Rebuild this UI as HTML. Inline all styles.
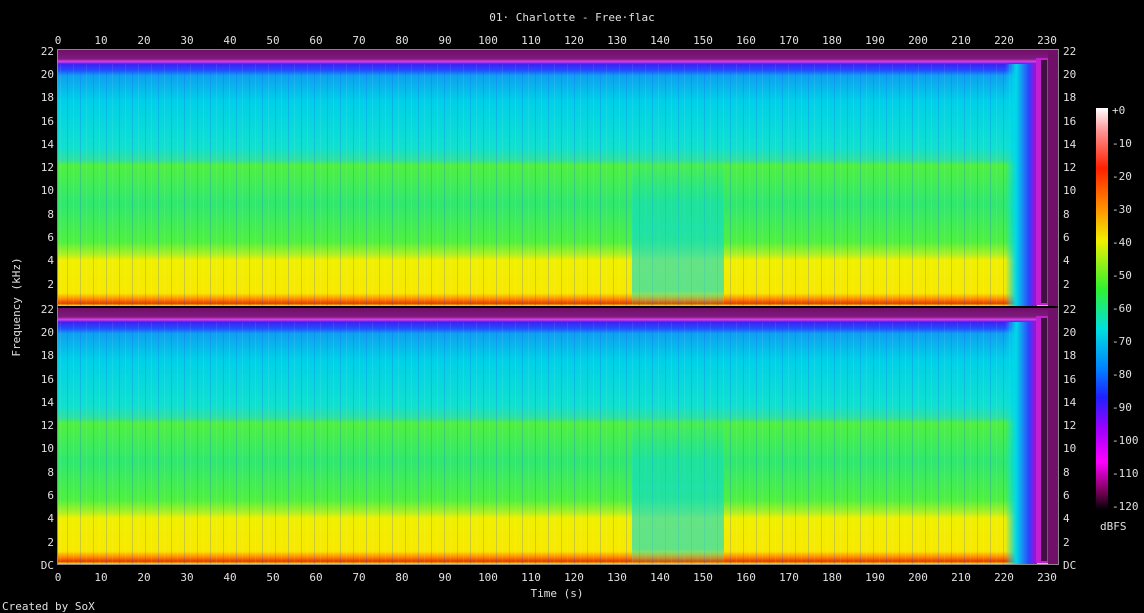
<!DOCTYPE html>
<html><head><style>body{margin:0;background:#000}svg{display:block}text{font-family:"DejaVu Sans Mono","Liberation Mono",monospace;font-size:11px;fill:#e0e0e0}</style></head>
<body>
<svg width="1144" height="613" xmlns="http://www.w3.org/2000/svg">
<defs>
<linearGradient id="sp" x1="0" y1="0" x2="0" y2="1">
<stop offset="0" stop-color="#701068"/><stop offset="0.035" stop-color="#801a80"/>
<stop offset="0.045" stop-color="#e040e8"/><stop offset="0.055" stop-color="#4020f0"/>
<stop offset="0.08" stop-color="#2050ff"/><stop offset="0.1" stop-color="#10a0f0"/>
<stop offset="0.2" stop-color="#00d0e8"/><stop offset="0.38" stop-color="#10e0d0"/>
<stop offset="0.43" stop-color="#30e0a0"/><stop offset="0.45" stop-color="#50f040"/>
<stop offset="0.6" stop-color="#30e870"/><stop offset="0.75" stop-color="#50f040"/>
<stop offset="0.8" stop-color="#b0f020"/><stop offset="0.82" stop-color="#f0f000"/>
<stop offset="0.95" stop-color="#f8e800"/><stop offset="0.975" stop-color="#ff8000"/>
<stop offset="0.99" stop-color="#e04000"/><stop offset="1" stop-color="#f0f000"/>
</linearGradient>
<linearGradient id="mid" x1="0" y1="0" x2="0" y2="1">
<stop offset="0" stop-color="#00d8e8" stop-opacity="0"/><stop offset="0.5" stop-color="#00d8e8" stop-opacity="0.55"/>
<stop offset="0.9" stop-color="#20e0c0" stop-opacity="0.7"/><stop offset="1" stop-color="#20e0c0" stop-opacity="0"/>
</linearGradient>
<linearGradient id="end" x1="0" y1="0" x2="1" y2="0">
<stop offset="0" stop-color="#00d8e8" stop-opacity="0"/><stop offset="0.35" stop-color="#00d8e8"/>
<stop offset="0.75" stop-color="#3040ff"/><stop offset="1" stop-color="#c000d0"/>
</linearGradient>
<pattern id="str" width="13" height="10" patternUnits="userSpaceOnUse">
<rect x="2" width="1" height="10" fill="#2040ff" opacity="0.2"/><rect x="8" width="1" height="10" fill="#ffffff" opacity="0.08"/>
</pattern>
<linearGradient id="cb" x1="0" y1="0" x2="0" y2="1">
<stop offset="0" stop-color="#ffffff"/><stop offset="0.06" stop-color="#ff9090"/>
<stop offset="0.15" stop-color="#ff2000"/><stop offset="0.25" stop-color="#ff9000"/>
<stop offset="0.33" stop-color="#f0f000"/><stop offset="0.45" stop-color="#30f030"/>
<stop offset="0.55" stop-color="#00e0e0"/><stop offset="0.65" stop-color="#0080ff"/>
<stop offset="0.72" stop-color="#2020ff"/><stop offset="0.8" stop-color="#a000ff"/>
<stop offset="0.88" stop-color="#ff00ff"/><stop offset="0.95" stop-color="#800060"/>
<stop offset="1" stop-color="#000000"/>
</linearGradient>
<g id="ch">
<rect x="58" y="0" width="1000" height="256" fill="url(#sp)"/>
<rect x="58" y="14" width="960" height="242" fill="url(#str)"/>
<rect x="632" y="100" width="92" height="156" fill="url(#mid)"/>
<rect x="1005" y="14" width="32" height="242" fill="url(#end)"/>
<rect x="1036" y="8" width="12" height="247" fill="#c020d0"/>
<rect x="1041" y="10" width="6" height="243" fill="#401040"/>
<rect x="1048" y="0" width="10" height="256" fill="#701068"/>
</g>
</defs>
<text x="572" y="21" text-anchor="middle">01· Charlotte - Free·flac</text>
<use href="#ch" y="50"/>
<use href="#ch" y="308"/>
<rect x="57.5" y="49.5" width="1001" height="515" fill="none" stroke="#888"/>
<g id="tx">
<text x="58" y="44" text-anchor="middle">0</text><text x="101" y="44" text-anchor="middle">10</text><text x="144" y="44" text-anchor="middle">20</text><text x="187" y="44" text-anchor="middle">30</text><text x="230" y="44" text-anchor="middle">40</text><text x="273" y="44" text-anchor="middle">50</text><text x="316" y="44" text-anchor="middle">60</text><text x="359" y="44" text-anchor="middle">70</text><text x="402" y="44" text-anchor="middle">80</text><text x="445" y="44" text-anchor="middle">90</text><text x="488" y="44" text-anchor="middle">100</text><text x="531" y="44" text-anchor="middle">110</text><text x="574" y="44" text-anchor="middle">120</text><text x="617" y="44" text-anchor="middle">130</text><text x="660" y="44" text-anchor="middle">140</text><text x="703" y="44" text-anchor="middle">150</text><text x="746" y="44" text-anchor="middle">160</text><text x="789" y="44" text-anchor="middle">170</text><text x="832" y="44" text-anchor="middle">180</text><text x="875" y="44" text-anchor="middle">190</text><text x="918" y="44" text-anchor="middle">200</text><text x="961" y="44" text-anchor="middle">210</text><text x="1004" y="44" text-anchor="middle">220</text><text x="1047" y="44" text-anchor="middle">230</text>
</g>
<use href="#tx" y="537"/>
<g>
<text x="54" y="55" text-anchor="end">22</text><text x="54" y="78" text-anchor="end">20</text><text x="54" y="101" text-anchor="end">18</text><text x="54" y="125" text-anchor="end">16</text><text x="54" y="148" text-anchor="end">14</text><text x="54" y="171" text-anchor="end">12</text><text x="54" y="194" text-anchor="end">10</text><text x="54" y="218" text-anchor="end">8</text><text x="54" y="241" text-anchor="end">6</text><text x="54" y="264" text-anchor="end">4</text><text x="54" y="288" text-anchor="end">2</text>
<text x="54" y="313" text-anchor="end">22</text><text x="54" y="336" text-anchor="end">20</text><text x="54" y="359" text-anchor="end">18</text><text x="54" y="383" text-anchor="end">16</text><text x="54" y="406" text-anchor="end">14</text><text x="54" y="429" text-anchor="end">12</text><text x="54" y="452" text-anchor="end">10</text><text x="54" y="476" text-anchor="end">8</text><text x="54" y="499" text-anchor="end">6</text><text x="54" y="522" text-anchor="end">4</text><text x="54" y="546" text-anchor="end">2</text><text x="54" y="569" text-anchor="end">DC</text>
</g>
<g>
<text x="1063" y="55">22</text><text x="1063" y="78">20</text><text x="1063" y="101">18</text><text x="1063" y="125">16</text><text x="1063" y="148">14</text><text x="1063" y="171">12</text><text x="1063" y="194">10</text><text x="1063" y="218">8</text><text x="1063" y="241">6</text><text x="1063" y="264">4</text><text x="1063" y="288">2</text>
<text x="1063" y="313">22</text><text x="1063" y="336">20</text><text x="1063" y="359">18</text><text x="1063" y="383">16</text><text x="1063" y="406">14</text><text x="1063" y="429">12</text><text x="1063" y="452">10</text><text x="1063" y="476">8</text><text x="1063" y="499">6</text><text x="1063" y="522">4</text><text x="1063" y="546">2</text><text x="1063" y="569">DC</text>
</g>
<rect x="1096" y="108" width="12" height="402" fill="url(#cb)"/>
<g>
<text x="1112" y="114">+0</text><text x="1112" y="147">-10</text><text x="1112" y="180">-20</text><text x="1112" y="213">-30</text><text x="1112" y="246">-40</text><text x="1112" y="279">-50</text><text x="1112" y="312">-60</text><text x="1112" y="345">-70</text><text x="1112" y="378">-80</text><text x="1112" y="411">-90</text><text x="1112" y="444">-100</text><text x="1112" y="477">-110</text><text x="1112" y="510">-120</text>
<text x="1100" y="530">dBFS</text>
</g>
<text x="557" y="597" text-anchor="middle">Time (s)</text>
<text transform="translate(20,307) rotate(-90)" text-anchor="middle">Frequency (kHz)</text>
<text x="2" y="610">Created by SoX</text>
</svg>
</body></html>
